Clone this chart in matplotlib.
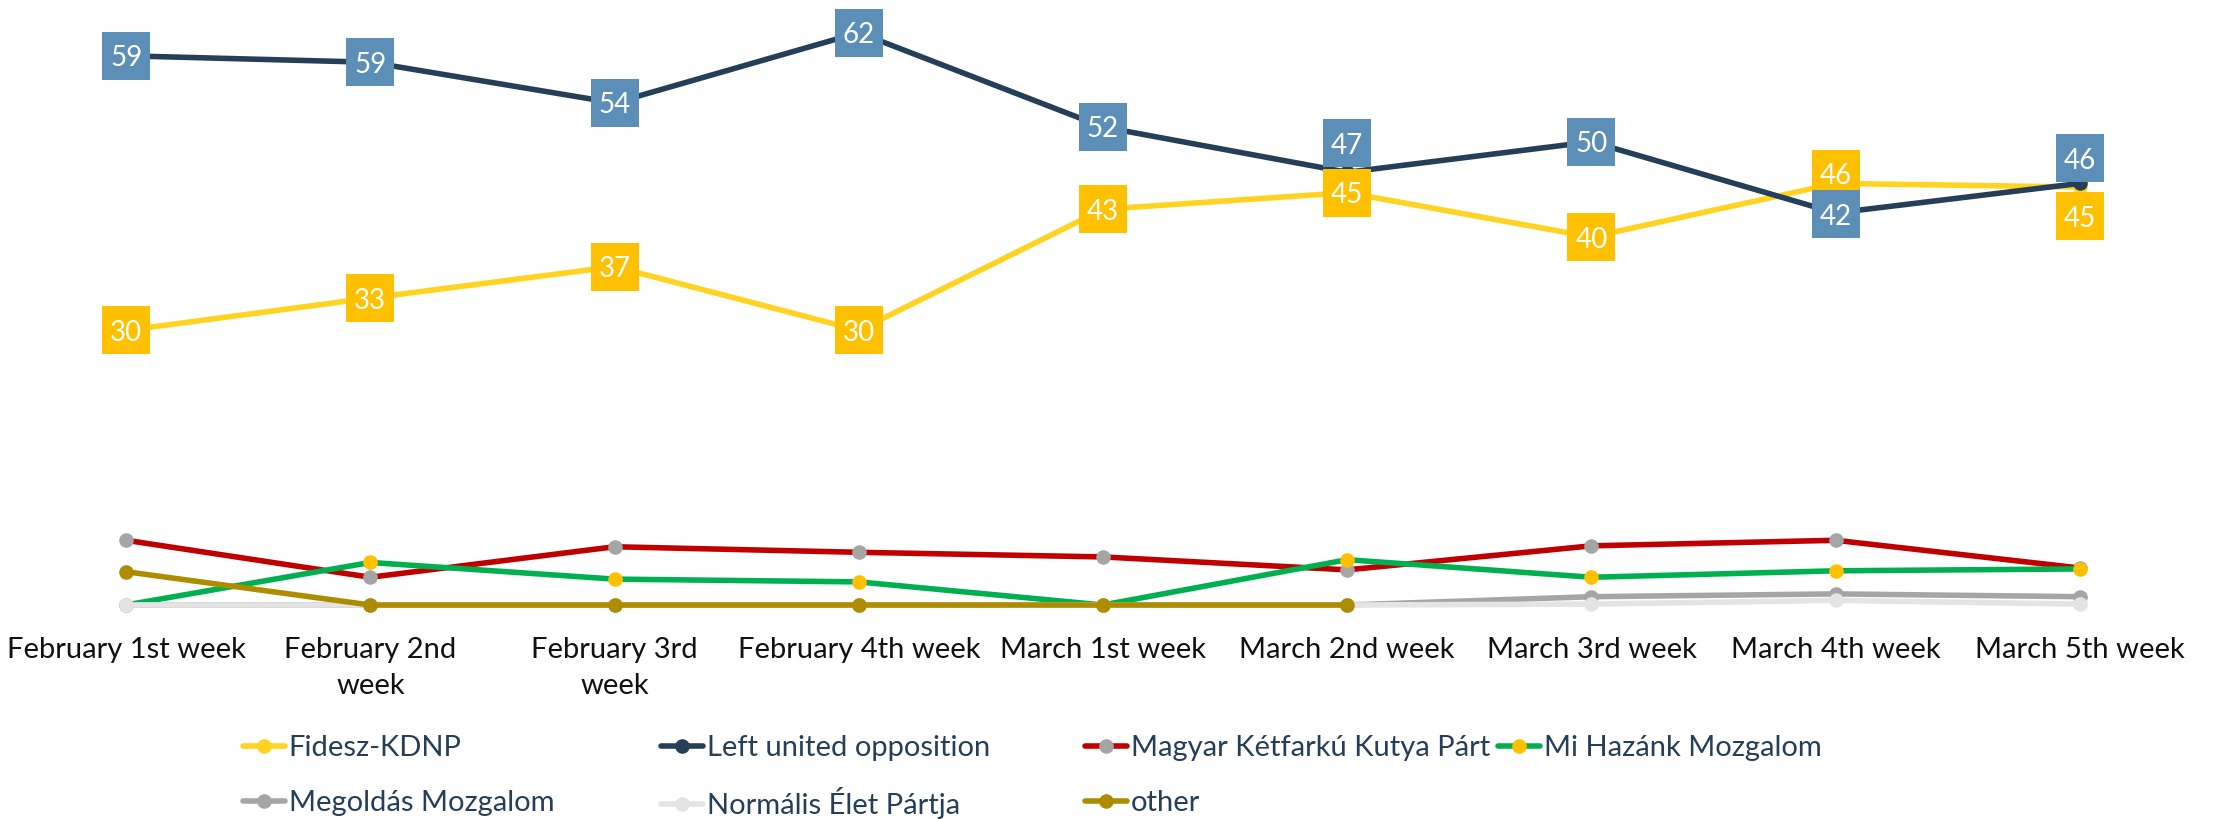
import numpy as np
import matplotlib
matplotlib.use("Agg")
from matplotlib import pyplot as plt
from matplotlib.transforms import offset_copy

plt.rcParams['font.family'] = ['Lato', 'DejaVu Sans']

weeks = ["February 1st week", "February 2nd\nweek", "February 3rd\nweek", "February 4th week",
         "March 1st week", "March 2nd week", "March 3rd week", "March 4th week", "March 5th week"]

fidesz = [29.7, 33.2, 36.6, 29.7, 42.8, 44.6, 39.8, 45.6, 45.2]
left_opp = [59.4, 58.7, 54.3, 61.9, 51.7, 46.8, 50.1, 42.4, 45.6]
mkkp = [7.0, 3.0, 6.3, 5.7, 5.2, 3.8, 6.4, 7.0, 4.0]
mi_hazank = [0.0, 4.6, 2.8, 2.5, 0.0, 4.9, 3.0, 3.7, 3.9]
megoldas = [0, 0, 0, 0, 0, 0, 0.9, 1.2, 0.9]
normalis = [0, 0, 0, 0, 0, 0, 0.1, 0.5, 0.1]
other = [3.6, 0, 0, 0, 0, 0, np.nan, np.nan, np.nan]

# (name, values, line colour, marker colour)
series = [
    ("Fidesz-KDNP", fidesz, "#FFD320", "#FFD320"),
    ("Left united opposition", left_opp, "#243F57", "#243F57"),
    ("Magyar Kétfarkú Kutya Párt", mkkp, "#C00000", "#A5A5A5"),
    ("Mi Hazánk Mozgalom", mi_hazank, "#00B050", "#FFC000"),
    ("Megoldás Mozgalom", megoldas, "#A5A5A5", "#A5A5A5"),
    ("Normális Élet Pártja", normalis, "#E4E4E4", "#E4E4E4"),
    ("other", other, "#AD8C00", "#AD8C00"),
]

# label nudges in points (up is positive)
fidesz_dy = [0, 0, 0, 0, 0, 0, 0, 7, -21]
left_dy = [0, 0, 0, 0, 0, 21, 0, -1, 18]

W, H = 2216, 819
fig = plt.figure(figsize=(W / 100, H / 100), dpi=100)
ax = fig.add_axes([4 / W, 1 - 605 / H, 2198 / W, 601 / H])

x = np.arange(len(weeks))
handles = {}
for name, vals, lc, mc in series:
    ln, = ax.plot(x, vals, color=lc, lw=4.0, marker="o", markersize=10.5,
                  markerfacecolor=mc, markeredgewidth=0, clip_on=False, solid_capstyle="round")
    handles[name] = ln

def add_labels(vals, dys, box_color):
    for xi, v, dy in zip(x, vals, dys):
        tr = offset_copy(ax.transData, fig=fig, x=0, y=dy, units="points")
        ax.plot([xi], [v], marker="s", markersize=34.5, color=box_color,
                markeredgewidth=0, transform=tr, clip_on=False, zorder=5)
        ax.text(xi, v, f"{v:.0f}", transform=tr, ha="center", va="center_baseline",
                color="white", fontsize=20, zorder=6)

add_labels(fidesz, fidesz_dy, "#FFC000")
add_labels(left_opp, left_dy, "#5B8FB8")

ax.set_xlim(-0.5, len(weeks) - 0.5)
ax.set_ylim(0, 65)
ax.set_xticks(x)
ax.set_xticklabels(weeks, fontsize=21, color="#111111", linespacing=1.5)
ax.tick_params(axis="x", length=0, pad=23)
ax.set_yticks([])
for s in ax.spines.values():
    s.set_visible(False)

# legend entries placed on a fixed grid, like the original (row-major, 4 columns)
legend_order = ["Fidesz-KDNP", "Left united opposition", "Magyar Kétfarkú Kutya Párt",
                "Mi Hazánk Mozgalom", "Megoldás Mozgalom", "Normális Élet Pártja", "other"]
col_x = [243, 661, 1085, 1498]
row_y = [748, 803]
for i, name in enumerate(legend_order):
    cx, cy = col_x[i % 4], row_y[i // 4]
    fig.legend([handles[name]], [name], loc="center left", bbox_to_anchor=(cx / W, 1 - cy / H),
               frameon=False, fontsize=21, handlelength=1.45, handletextpad=0.12,
               borderpad=0, borderaxespad=0, labelcolor="#243F57")

fig.savefig("out.png", dpi=100)
